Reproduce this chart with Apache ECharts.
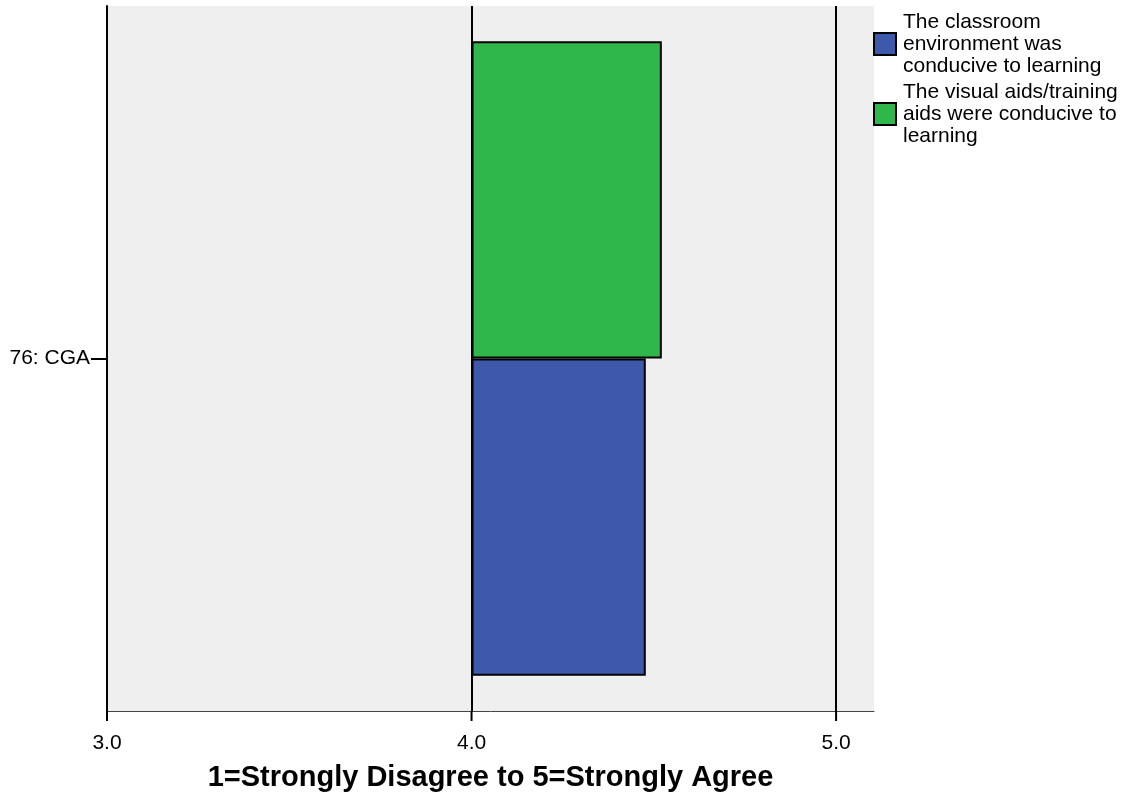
<!DOCTYPE html>
<html>
<head>
<meta charset="utf-8">
<script src="https://cdn.jsdelivr.net/npm/echarts@6/dist/echarts.min.js"></script>
<style>html,body{margin:0;padding:0;background:#fff;}#c{width:1125px;height:796px;}</style>
</head>
<body>
<div id="c"></div>
<script>
const categories = ['76: CGA'];
const seriesNames = ['The classroom environment was conducive to learning', 'The visual aids/training aids were conducive to learning'];
const legendLabels = ['The classroom\nenvironment was\nconducive to learning', 'The visual aids/training\naids were conducive to\nlearning'];
const classroomValues = [4.478];
const visualAidsValues = [4.522];
const barBase = 4.0;
const xTicks = [3.0, 4.0, 5.0];
const gridLineValues = [4.0, 5.0];
const colors = ['#3e58ac', '#2fb74b'];

const chart = echarts.init(document.getElementById('c'));
const font = 'Liberation Sans, Arial, sans-serif';
const baseArr = categories.map(() => barBase);
function visible(name, vals, stack, color, extra) {
  return Object.assign({
    name: name, type: 'bar', stack: stack,
    data: vals.map(v => v - barBase),
    itemStyle: { color: color, borderColor: '#000', borderWidth: 2 },
    barGap: '0%', barCategoryGap: '10%'
  }, extra || {});
}
function hidden(stack) {
  return {
    name: 'base_' + stack, type: 'bar', stack: stack, data: baseArr, silent: true,
    itemStyle: { color: 'transparent' }, barGap: '0%', barCategoryGap: '10%'
  };
}
chart.setOption({
  animation: false,
  textStyle: { fontFamily: font },
  grid: { left: 107, top: 6, right: 251, bottom: 85, show: true, backgroundColor: '#efefef', borderWidth: 0, outerBoundsMode: 'none', containLabel: false },
  legend: {
    data: seriesNames, orient: 'vertical', left: 873, top: 11, padding: 0, itemWidth: 22, itemHeight: 22, itemGap: 4,
    icon: 'rect', selectedMode: false,
    itemStyle: { borderColor: '#000', borderWidth: 2 },
    formatter: n => legendLabels[seriesNames.indexOf(n)],
    textStyle: { fontFamily: font, fontSize: 21, color: '#000', lineHeight: 22, padding: [0, 0, 0, 2] }
  },
  xAxis: {
    type: 'value', min: xTicks[0], max: 5.104, interval: 1,
    name: '1=Strongly Disagree to 5=Strongly Agree', nameLocation: 'middle', nameGap: 52,
    nameTextStyle: { fontFamily: font, fontSize: 29, fontWeight: 'bold', color: '#000' },
    axisLine: { show: true, lineStyle: { color: '#444', width: 1 } },
    axisTick: { show: false },
    axisLabel: { fontSize: 21, color: '#000', margin: 22, customValues: xTicks, formatter: v => Number(v).toFixed(1) },
    splitLine: { show: false }
  },
  yAxis: {
    type: 'category', data: categories,
    axisLine: { show: true, lineStyle: { color: '#000', width: 2 } },
    axisTick: { show: true, alignWithLabel: true, length: 16, lineStyle: { color: '#000', width: 2 } },
    axisLabel: { fontSize: 21, color: '#000', margin: 17 }
  },
  series: [
    hidden('b'),
    visible(seriesNames[1], visualAidsValues, 'b', colors[1], {
      markLine: {
        silent: true, symbol: 'none', label: { show: false },
        lineStyle: { color: '#000', width: 2, type: 'solid' },
        data: gridLineValues.map(v => ({ xAxis: v }))
      }
    }),
    hidden('a'),
    visible(seriesNames[0], classroomValues, 'a', colors[0]),
    {
      name: 'xticks', type: 'custom', silent: true, clip: false,
      data: xTicks.map(v => [v, 0]),
      encode: { x: 0, y: 1 },
      renderItem: function (params, api) {
        const x = api.coord([api.value(0), 0])[0];
        const yb = params.coordSys.y + params.coordSys.height;
        return { type: 'line', shape: { x1: x, y1: yb, x2: x, y2: yb + 10 }, style: { stroke: '#000', lineWidth: 2 } };
      }
    }
  ]
});
</script>
</body>
</html>
